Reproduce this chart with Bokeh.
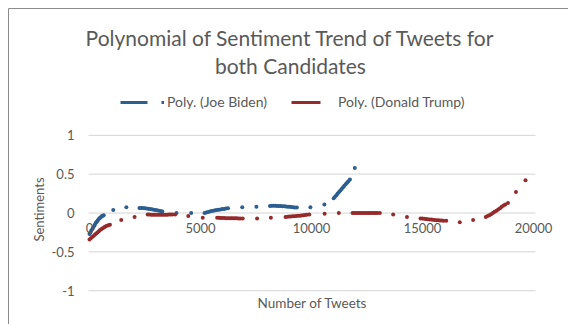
import math
from bokeh.plotting import figure
from bokeh.models import (Range1d, Label, BoxAnnotation, Legend, LegendItem,
                          NumeralTickFormatter, FixedTicker)
from bokeh.embed import file_html
from bokeh.resources import INLINE

# ---------------- data ----------------
biden_x = [0, 40, 80, 120, 160, 200, 240, 280, 320, 360, 400, 440, 480, 520, 560, 600, 640,
           1070, 1660,
           2250, 2330, 2410, 2490, 2570, 2650, 2730, 2810, 2890, 2970, 3050, 3130, 3210, 3280,
           3920, 4580,
           5180, 5260, 5340, 5420, 5500, 5580, 5660, 5740, 5820, 5900, 5980, 6060, 6140, 6240,
           6880, 7520,
           8130, 8210, 8290, 8370, 8450, 8530, 8610, 8690, 8770, 8850, 8930, 9010, 9090, 9170, 9250, 9340,
           9950, 10580,
           11000, 11060, 11120, 11180, 11240, 11300, 11360, 11420, 11480, 11540, 11600, 11660, 11730,
           11950]
biden_y = [-0.27, -0.25, -0.23, -0.21, -0.19, -0.17, -0.15, -0.13, -0.115, -0.10, -0.085, -0.07, -0.06, -0.05, -0.04, -0.035, -0.03,
           0.04, 0.075,
           0.065, 0.065, 0.063, 0.062, 0.058, 0.055, 0.05, 0.047, 0.043, 0.04, 0.035, 0.03, 0.025, 0.02,
           0.0, 0.0,
           0.0, 0.008, 0.014, 0.02, 0.025, 0.03, 0.034, 0.038, 0.042, 0.046, 0.05, 0.053, 0.057, 0.06,
           0.075, 0.08,
           0.09, 0.092, 0.092, 0.092, 0.091, 0.09, 0.09, 0.088, 0.087, 0.085, 0.082, 0.08, 0.078, 0.075, 0.072, 0.07,
           0.075, 0.11,
           0.19, 0.21, 0.23, 0.25, 0.27, 0.29, 0.31, 0.33, 0.35, 0.37, 0.39, 0.41, 0.43,
           0.58]

trump_x = [0, 60, 120, 180, 240, 300, 360, 420, 480, 540, 600, 660, 720, 780, 850, 920,
           1430, 2030,
           2620, 2700, 2780, 2860, 2940, 3020, 3100, 3180, 3260, 3340, 3420, 3500, 3580, 3660, 3740, 3860,
           4450, 5100,
           5750, 5830, 5910, 5990, 6070, 6150, 6230, 6310, 6390, 6470, 6550, 6630, 6710, 6790, 6900,
           7550, 8170,
           8830, 8910, 8990, 9070, 9150, 9230, 9310, 9390, 9470, 9550, 9630, 9710, 9790, 9900,
           10590, 11230,
           11850, 11930, 12010, 12090, 12170, 12250, 12330, 12410, 12490, 12570, 12650, 12730, 12810, 12890, 12970, 13080,
           13680, 14300,
           14910, 14990, 15070, 15150, 15230, 15310, 15390, 15470, 15550, 15630, 15710, 15790, 15870, 15950, 16070,
           16680, 17280,
           17850, 17930, 18010, 18090, 18170, 18250, 18330, 18410, 18490, 18570, 18650, 18730, 18850,
           19210, 19640]
trump_y = [-0.34, -0.325, -0.31, -0.295, -0.28, -0.265, -0.25, -0.235, -0.22, -0.205, -0.195, -0.185, -0.175, -0.165, -0.158, -0.15,
           -0.09, -0.05,
           -0.02, -0.02, -0.021, -0.021, -0.022, -0.022, -0.022, -0.022, -0.022, -0.022, -0.021, -0.021, -0.02, -0.02, -0.02, -0.018,
           -0.04, -0.06,
           -0.06, -0.062, -0.063, -0.064, -0.065, -0.066, -0.067, -0.067, -0.068, -0.068, -0.069, -0.069, -0.07, -0.07, -0.07,
           -0.07, -0.06,
           -0.05, -0.048, -0.046, -0.045, -0.043, -0.041, -0.039, -0.037, -0.035, -0.033, -0.03, -0.027, -0.024, -0.02,
           -0.01, 0.0,
           0.0, 0.0, 0.0, 0.0, 0.0, 0.0, 0.0, 0.0, 0.0, 0.0, 0.0, 0.0, 0.0, 0.0, 0.0, 0.0,
           -0.02, -0.05,
           -0.07, -0.072, -0.075, -0.078, -0.08, -0.083, -0.085, -0.087, -0.09, -0.092, -0.094, -0.096, -0.098, -0.099, -0.10,
           -0.12, -0.09,
           -0.05, -0.04, -0.03, -0.015, 0.0, 0.015, 0.03, 0.045, 0.06, 0.08, 0.095, 0.11, 0.13,
           0.27, 0.42]

x_ticks = [0, 5000, 10000, 15000, 20000]
y_ticks = [-1, -0.5, 0, 0.5, 1]
series_names = ["Poly. (Joe Biden)", "Poly. (Donald Trump)"]
title_lines = ["Polynomial of Sentiment Trend of Tweets for", "both Candidates"]
x_title = "Number of Tweets"
y_title = "Sentiments"

BLUE = "#2B5E91"
RED = "#962A2A"
GREY_TXT = "#595959"
GRID = "#d4d4d4"
FONT = "Lato"

# ---------------- layout ----------------
W, H = 568, 324
# pixel placement of the axis extremes (the frame covers the whole canvas)
PX_X_LO, PX_X_HI = 89.0, 533.0        # where x=0 and x=20000 sit
PX_Y_HI, PX_Y_LO = 134.8, 290.2       # where y=1 and y=-1 sit
X_LO, X_HI = x_ticks[0], x_ticks[-1]
Y_LO, Y_HI = y_ticks[0], y_ticks[-1]
sx = (X_HI - X_LO) / (PX_X_HI - PX_X_LO)
sy = (Y_HI - Y_LO) / (PX_Y_LO - PX_Y_HI)
x_range = Range1d(X_LO - PX_X_LO * sx, X_HI + (W - PX_X_HI) * sx)
y_range = Range1d(Y_LO - (H - PX_Y_LO) * sy, Y_HI + PX_Y_HI * sy)
GRID_X0 = X_LO - 1.0 * sx      # gridlines start 1px left of x=0
GRID_X1 = X_HI + 2.0 * sx      # and end 2px right of x=20000
OFF = X_LO - 10 * W * sx       # far outside the visible area


def scr_y(cy):
    return H - cy


p = figure(width=W, height=H, output_backend="svg", toolbar_location=None,
           x_range=x_range, y_range=y_range,
           min_border_left=0, min_border_right=0,
           min_border_top=0, min_border_bottom=0,
           background_fill_color="white", border_fill_color="white")
p.outline_line_color = None
p.xgrid.visible = False
p.ygrid.visible = False

# horizontal gridlines, limited to the plot area
p.segment(x0=[GRID_X0] * len(y_ticks), x1=[GRID_X1] * len(y_ticks),
          y0=y_ticks, y1=y_ticks, line_color=GRID, line_width=1)

# axes (drawn at fixed data locations inside the frame)
p.xaxis.ticker = FixedTicker(ticks=x_ticks)
p.xaxis.formatter = NumeralTickFormatter(format="0")
p.xaxis.fixed_location = 0
p.xaxis.axis_line_color = None
p.xaxis.major_tick_line_color = None
p.xaxis.minor_tick_line_color = None
p.xaxis.major_tick_out = 0
p.xaxis.major_tick_in = 0
p.xaxis.major_label_standoff = 10
p.xaxis.major_label_text_font = FONT
p.xaxis.major_label_text_font_size = "13px"
p.xaxis.major_label_text_color = GREY_TXT

p.yaxis.ticker = FixedTicker(ticks=y_ticks)
p.yaxis.formatter = NumeralTickFormatter(format="0.[0]")
p.yaxis.fixed_location = GRID_X0
p.yaxis.axis_line_color = None
p.yaxis.major_tick_line_color = None
p.yaxis.minor_tick_line_color = None
p.yaxis.major_tick_out = 0
p.yaxis.major_tick_in = 0
p.yaxis.major_label_standoff = 14
p.yaxis.major_label_text_font = FONT
p.yaxis.major_label_text_font_size = "13px"
p.yaxis.major_label_text_color = GREY_TXT

# data points
p.scatter(biden_x, biden_y, size=4, color=BLUE, line_width=0)
p.scatter(trump_x, trump_y, size=4, color=RED, line_width=0)

# legend samples (trendline style); one point far off-screen so the line itself draws nothing
lb = p.line([OFF], [0], line_color=BLUE, line_width=3, line_dash="27 14 3 100")
lt = p.line([OFF], [0], line_color=RED, line_width=3, line_dash="29 100")
legend = Legend(items=[LegendItem(label=series_names[0], renderers=[lb]),
                       LegendItem(label=series_names[1], renderers=[lt])],
                orientation="horizontal", location=(120, scr_y(110)),
                glyph_width=44, glyph_height=14, label_standoff=3, spacing=24,
                padding=0, margin=0, border_line_color=None,
                background_fill_alpha=0,
                label_text_font=FONT, label_text_font_size="14px",
                label_text_color=GREY_TXT, label_height=14)
p.add_layout(legend, "center")

# title lines
for txt, cy in zip(title_lines, [37, 65]):
    p.add_layout(Label(x=290, y=scr_y(cy), x_units="screen", y_units="screen",
                       text=txt, text_align="center", text_baseline="middle",
                       text_font=FONT, text_font_size="21px", text_color=GREY_TXT))

# axis titles
p.add_layout(Label(x=312, y=scr_y(302), x_units="screen", y_units="screen",
                   text=x_title, text_align="center", text_baseline="middle",
                   text_font=FONT, text_font_size="13.5px", text_color=GREY_TXT))
p.add_layout(Label(x=38, y=scr_y(209), x_units="screen", y_units="screen",
                   text=y_title, text_align="center", text_baseline="middle",
                   angle=math.pi / 2,
                   text_font=FONT, text_font_size="13px", text_color=GREY_TXT))

# chart border (left and top edges visible)
p.add_layout(BoxAnnotation(left=8, right=W + 50, top=scr_y(8), bottom=-50,
                           left_units="screen", right_units="screen",
                           top_units="screen", bottom_units="screen",
                           fill_alpha=0, line_color="#8c8c8c", line_width=1,
                           line_alpha=1))

open("out.html", "w").write(file_html(p, INLINE))
